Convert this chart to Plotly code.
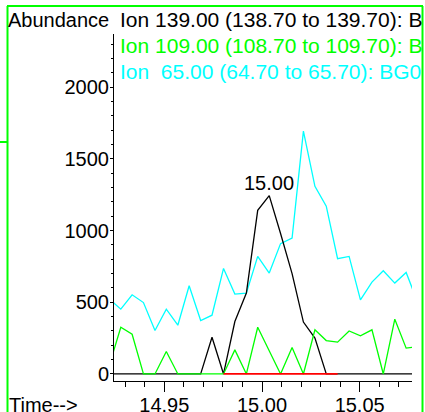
import plotly.graph_objects as go

W, H = 425, 412

# scan times (min)
times = [14.9218, 14.9277, 14.9335, 14.9393, 14.9452, 14.9510, 14.9569, 14.9627,
         14.9686, 14.9744, 14.9803, 14.9861, 14.9920, 14.9978, 15.0037, 15.0095,
         15.0154, 15.0212, 15.0271, 15.0329, 15.0387, 15.0446, 15.0504, 15.0563,
         15.0621, 15.0680, 15.0738, 15.0797]

ion65 = [524, 452, 552, 498, 303, 452, 340, 615, 373, 410, 736, 557, 564, 820,
         704, 909, 948, 1694, 1309, 1170, 804, 820, 517, 641, 720, 634, 708, 500]
ion109 = [60, 326, 277, 0, 0, 157, 0, 0, 0, 0, 0, 168, 0, 326,
          165, 0, 184, 0, 308, 233, 222, 300, 266, 308, 0, 382, 180, 190]
ion139 = [0, 0, 0, 0, 0, 0, 0, 0, 0, 256, 0, 366, 564, 1141,
          1244, 980, 700, 362, 250, 0, 0, 0, 0, 0, 0, 0, 0, 0]

# integration baseline (red)
base_t = [14.9803, 15.0387]
base_v = [0, 0]

peak_label = "15.00"
peak_t, peak_v = 15.0037, 1244

legend_lines = [
    ("Ion 139.00 (138.70 to 139.70): B", "#000000"),
    ("Ion 109.00 (108.70 to 109.70): B", "#00ff00"),
    ("Ion  65.00 (64.70 to 65.70): BG0", "#00ffff"),
]

y_ticks = [0, 500, 1000, 1500, 2000]
x_ticks = [14.95, 15.00, 15.05]

FONT = "Liberation Sans, Arial, sans-serif"

fig = go.Figure()
fig.add_trace(go.Scatter(x=times, y=ion65, mode="lines",
                         line=dict(color="#00ffff", width=1.3)))
fig.add_trace(go.Scatter(x=times, y=ion139, mode="lines",
                         line=dict(color="#000000", width=1.3)))
fig.add_trace(go.Scatter(x=times, y=ion109, mode="lines",
                         line=dict(color="#00ff00", width=1.3)))
fig.add_trace(go.Scatter(x=base_t, y=base_v, mode="lines",
                         line=dict(color="#ff0000", width=1.8)))

def px(x):
    return x / W

def py(y):
    return 1 - y / H

fig.update_layout(
    width=W, height=H, margin=dict(l=0, r=0, t=0, b=0, autoexpand=False),
    paper_bgcolor="white", plot_bgcolor="white", showlegend=False,
    font=dict(family=FONT, size=20, color="black"),
    xaxis=dict(domain=[px(114), px(412)], range=[14.92422, 15.0768],
               automargin=False,
               showgrid=False, zeroline=False, showline=True,
               linecolor="black", linewidth=1,
               tickmode="array", tickvals=x_ticks,
               ticktext=[f"{v:.2f}" for v in x_ticks],
               ticks="outside", ticklen=10, tickcolor="black", tickwidth=1,
               ticklabelstandoff=-4,
               minor=dict(dtick=0.01, tick0=14.95, ticks="outside", ticklen=5,
                          tickcolor="black", tickwidth=1),
               tickfont=dict(size=20, family=FONT, color="black")),
    yaxis=dict(domain=[py(381), py(34)], range=[-49, 2371],
               automargin=False,
               showgrid=False, zeroline=False, showline=True,
               linecolor="black", linewidth=1,
               tickmode="array", tickvals=y_ticks,
               ticks="outside", ticklen=3, tickcolor="black", tickwidth=1,
               ticklabelstandoff=-3,
               minor=dict(dtick=100, tick0=0, ticks="outside", ticklen=2,
                          tickcolor="black", tickwidth=1),
               tickfont=dict(size=20, family=FONT, color="black")),
)

anns = [
    dict(text="Abundance", x=px(6), y=py(20), xanchor="left", yanchor="middle",
         font=dict(size=20, color="black")),
    dict(text="Time-->", x=px(7), y=py(405), xanchor="left", yanchor="middle",
         font=dict(size=20, color="black")),
]
for i, (txt, col) in enumerate(legend_lines):
    anns.append(dict(text=txt.replace(" ", "&nbsp;"), x=px(118), y=py(20 + 25.8 * i),
                     xanchor="left", yanchor="middle",
                     font=dict(size=21, color=col)))
for a in anns:
    a.update(xref="paper", yref="paper", showarrow=False)
anns.append(dict(text=peak_label, x=peak_t, y=peak_v, xref="x", yref="y",
                 showarrow=False, xanchor="center", yanchor="middle", yshift=13,
                 font=dict(size=20, color="black")))
fig.update_layout(annotations=anns)

G = "#00ff00"
shapes = [
    dict(type="line", xref="paper", yref="paper", x0=px(7.5), x1=px(7.5), y0=py(6), y1=py(412)),
    dict(type="line", xref="paper", yref="paper", x0=px(7), x1=px(423), y0=py(6), y1=py(6)),
    dict(type="line", xref="paper", yref="paper", x0=px(422.5), x1=px(422.5), y0=py(6), y1=py(412)),
    dict(type="line", xref="paper", yref="paper", x0=px(0), x1=px(7), y0=py(142), y1=py(142)),
]
for s in shapes:
    s["line"] = dict(color=G, width=2)
fig.update_layout(shapes=shapes)

fig.write_html("out.html", config={"displayModeBar": False},
               post_script="document.body.style.margin='0';document.body.style.overflow='hidden';")
